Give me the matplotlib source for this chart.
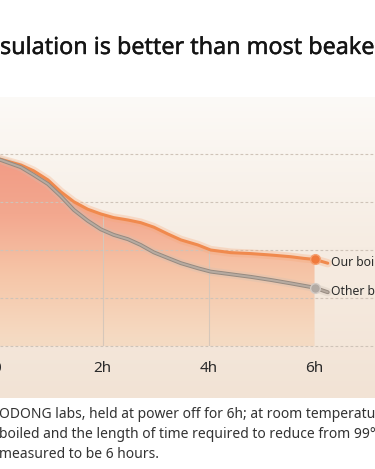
import numpy as np
import matplotlib
matplotlib.use("Agg")
import matplotlib.pyplot as plt
import matplotlib.patheffects as pe
from matplotlib.colors import LinearSegmentedColormap

plt.rcParams['font.family'] = ['Noto Sans', 'DejaVu Sans']

# values (hours, degrees)
hours = [0, 0.08, 0.46, 0.70, 0.97, 1.21, 1.46, 1.72, 1.97, 2.21, 2.48, 2.72,
         2.97, 3.23, 3.48, 3.80, 4.04, 4.42, 4.80, 5.18, 5.55, 5.80, 6.0]
ours = [98.2, 97.8, 95.4, 93.0, 89.2, 84.3, 80.1, 77.0, 75.0, 73.5, 72.5, 71.4,
        69.5, 66.7, 64.2, 62.1, 60.0, 58.9, 58.5, 57.9, 57.2, 56.5, 56.1]
other = [98.0, 97.5, 94.5, 91.3, 87.5, 82.5, 76.7, 72.2, 68.6, 66.3, 64.5, 62.1,
         59.0, 56.7, 54.5, 52.4, 51.0, 49.9, 48.8, 47.5, 46.1, 45.1, 44.3]
tail_h = 6.25
ours_tail = 54.5
other_tail = 42.4

grid_vals = [100, 80, 60, 40, 20]
tick_pos = [0, 2, 4, 6]
tick_labels = ['0', '2h', '4h', '6h']
label_ours = "Our boiling kettle"
label_other = "Other boiling kettles"

title = "sulation is better than most beake"
notes = ["ODONG labs, held at power off for 6h; at room temperatur",
         "boiled and the length of time required to reduce from 99°C",
         "measured to be 6 hours."]

W, H = 375, 469
fig = plt.figure(figsize=(W / 100, H / 100), dpi=100)
fig.patch.set_facecolor('white')

top_px, bot_px = 97, 398
ax = fig.add_axes([0, (H - bot_px) / H, 1, (bot_px - top_px) / H])
x0, pxh = -3.5, 53.0
xlim = ((0 - x0) / pxh, (W - x0) / pxh)
def yval(py):
    return 100 - (py - 154) * 20 / 48
ylim = (yval(bot_px), yval(top_px))
ax.set_xlim(*xlim)
ax.set_ylim(*ylim)
ax.axis('off')

# panel background
bg = LinearSegmentedColormap.from_list('bg', ['#f2e3d5', '#f6ece2', '#fcfaf7'])
grad = np.linspace(0, 1, 256).reshape(-1, 1)
ax.imshow(grad, cmap=bg, origin='lower', aspect='auto',
          extent=(xlim[0], xlim[1], ylim[0], ylim[1]), zorder=0)

# gradient fill under our curve
fc = LinearSegmentedColormap.from_list('fill', ['#f4dfca', '#f5dac2', '#f6c6a8', '#f3a88f', '#f29a84'])
im = ax.imshow(grad, cmap=fc, origin='lower', aspect='auto',
               extent=(xlim[0], xlim[1], ylim[0], 100), zorder=1)
poly = ax.fill_between(hours, ours, yval(346), color='none', zorder=1)
clip = poly.get_paths()[0]
im.set_clip_path(clip, transform=ax.transData)

# grid
for g in grid_vals:
    ax.axhline(g, color='#cfc3b8', lw=0.8, ls=(0, (2.5, 2)), zorder=2)
vl = ax.vlines(tick_pos[1:], grid_vals[-1], 110, color='#d6c7ba', lw=0.8, zorder=2)
vl.set_clip_path(clip, transform=ax.transData)

# lines
oh = hours + [tail_h]
ax.plot(oh, ours + [ours_tail], color='#f7a878', lw=6, alpha=0.3,
        solid_capstyle='round', solid_joinstyle='round', zorder=3)
ax.plot(oh, ours + [ours_tail], color='#f08a4e', lw=2.2,
        solid_capstyle='round', solid_joinstyle='round', zorder=4)
ax.plot(oh, other + [other_tail], color='#cdc1b6', lw=6, alpha=0.3,
        solid_capstyle='round', solid_joinstyle='round', zorder=3)
ax.plot(oh, other + [other_tail], color='#968a80', lw=2.8,
        solid_capstyle='round', solid_joinstyle='round', zorder=4)
ax.plot(oh, other + [other_tail], color='#b7aba1', lw=1.4,
        solid_capstyle='round', solid_joinstyle='round', zorder=4)

# end markers
ax.plot(hours[-1], ours[-1], 'o', ms=7, color='#f07a3c', mec='#f5a070', mew=1, zorder=5)
ax.plot(hours[-1], other[-1], 'o', ms=7, color='#b2aaa4', mec='#d3cbc5', mew=1, zorder=5)

ax.text(tail_h + 0.06, ours_tail + 0.4, label_ours, fontsize=8.8, color='#2a2a2a',
        va='center', ha='left', zorder=6)
ax.text(tail_h + 0.06, other_tail + 0.4, label_other, fontsize=8.8, color='#2a2a2a',
        va='center', ha='left', zorder=6)

for p, t in zip(tick_pos, tick_labels):
    ax.text(p, yval(369), t, fontsize=11, color='#2a2a2a', ha='center', va='center', zorder=6)

fig.text(0.0, 1 - 48 / H, title, fontsize=16.8, color='#141414', ha='left', va='center',
         path_effects=[pe.withStroke(linewidth=0.3, foreground='#141414')])
for i, line in enumerate(notes):
    fig.text(-0.003, 1 - (414 + i * 20) / H, line, fontsize=10, color='#333333',
             ha='left', va='center')

fig.savefig('out.png', dpi=100, facecolor='white')
